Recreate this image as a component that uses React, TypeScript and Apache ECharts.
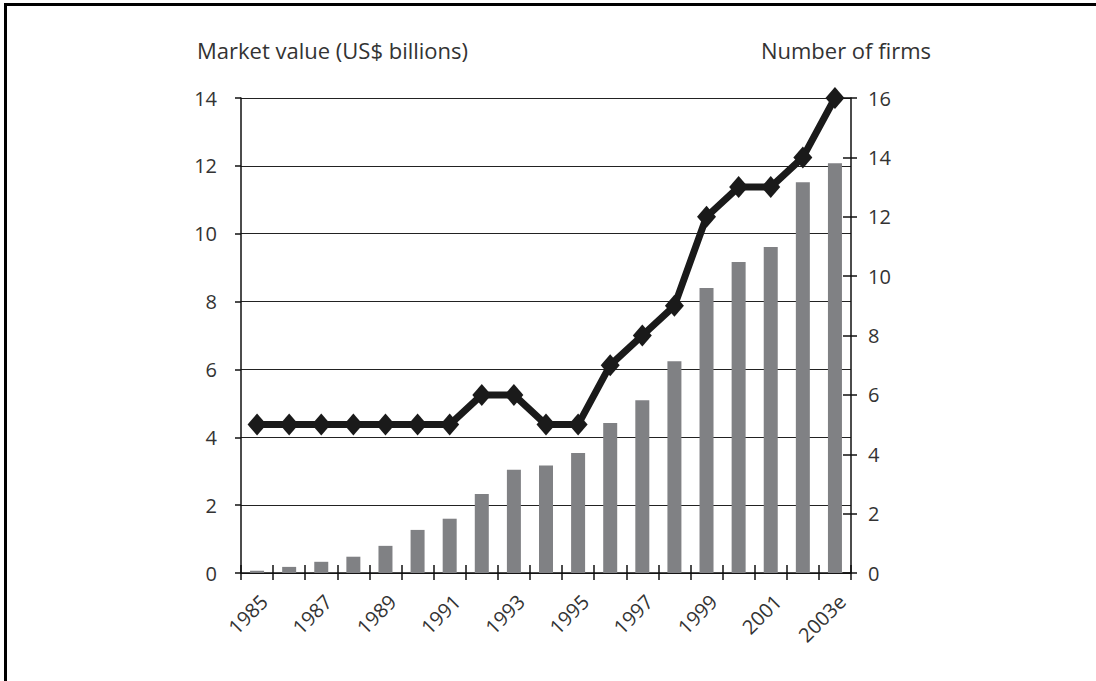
import React, { useEffect, useRef } from "react";
import * as echarts from "echarts";

const years = ["1985","1986","1987","1988","1989","1990","1991","1992","1993","1994","1995","1996","1997","1998","1999","2000","2001","2002","2003e"];
const marketValue = [0.07,0.18,0.33,0.48,0.8,1.27,1.6,2.33,3.04,3.17,3.54,4.42,5.09,6.24,8.4,9.17,9.61,11.52,12.08];
const firms = [5,5,5,5,5,5,5,6,6,5,5,7,8,9,12,13,13,14,16];
const leftTitle = "Market value (US$ billions)";
const rightTitle = "Number of firms";

const FONT = "'Open Sans', Lato, sans-serif";
const TXT = "#333333";

export default function App() {
  const ref = useRef<HTMLDivElement>(null);
  useEffect(() => {
    if (!ref.current) return;
    const chart = echarts.init(ref.current, null, { renderer: "svg" });
    chart.setOption({
      animation: false,
      backgroundColor: "#ffffff",
      textStyle: { fontFamily: FONT },
      grid: { left: 241, right: 245, top: 98, bottom: 108, containLabel: false },
      graphic: [
        { type: "rect", shape: { x: 4, y: 3, width: 1092, height: 3 }, style: { fill: "#000" } },
        { type: "rect", shape: { x: 4, y: 3, width: 3, height: 678 }, style: { fill: "#000" } },
        { type: "text", x: 197, y: 50, style: { text: leftTitle, font: `22px ${FONT}`, fill: TXT, textVerticalAlign: "middle", textAlign: "left" } },
        { type: "text", x: 931, y: 50, style: { text: rightTitle, font: `22px ${FONT}`, fill: TXT, textVerticalAlign: "middle", textAlign: "right" } },
      ],
      xAxis: [
        {
          type: "category",
          data: years,
          boundaryGap: true,
          axisLine: { show: true, lineStyle: { color: "#111", width: 1.5 } },
          axisTick: { show: true, interval: 0, length: 7, lineStyle: { color: "#111", width: 1.5 } },
          axisLabel: { interval: 1, rotate: 45, fontSize: 20, color: TXT, margin: 18, verticalAlign: "top", fontFamily: FONT },
          splitLine: { show: false },
        },
        {
          type: "category",
          data: years,
          boundaryGap: true,
          position: "bottom",
          axisLine: { show: false },
          axisTick: { show: true, inside: true, interval: 0, length: 8, lineStyle: { color: "#111", width: 1.5 } },
          axisLabel: { show: false },
          splitLine: { show: false },
        },
      ],
      yAxis: [
        {
          type: "value",
          min: 0,
          max: 14,
          interval: 2,
          position: "left",
          axisLine: { show: true, lineStyle: { color: "#111", width: 1.5 } },
          axisTick: { show: true, length: 6, lineStyle: { color: "#111", width: 1.5 } },
          axisLabel: { fontSize: 20, color: TXT, margin: 24, fontFamily: FONT },
          splitLine: { show: true, lineStyle: { color: "#222", width: 1.2 } },
        },
        {
          type: "value",
          min: 0,
          max: 16,
          interval: 2,
          position: "right",
          axisLine: { show: true, lineStyle: { color: "#111", width: 1.5 } },
          axisTick: { show: true, length: 6, lineStyle: { color: "#111", width: 1.5 } },
          axisLabel: { fontSize: 20, color: TXT, margin: 17, fontFamily: FONT },
          splitLine: { show: false },
        },
        {
          type: "value",
          min: 0,
          max: 16,
          interval: 2,
          position: "right",
          offset: 0,
          axisLine: { show: false },
          axisTick: { show: true, inside: true, length: 8, lineStyle: { color: "#111", width: 1.5 } },
          axisLabel: { show: false },
          splitLine: { show: false },
        },
      ],
      series: [
        {
          type: "bar",
          name: leftTitle,
          data: marketValue,
          xAxisIndex: 0,
          yAxisIndex: 0,
          barWidth: 14,
          itemStyle: { color: "#808184" },
          z: 2,
        },
        {
          type: "line",
          name: rightTitle,
          data: firms,
          xAxisIndex: 0,
          yAxisIndex: 1,
          symbol: "diamond",
          symbolSize: [19, 22],
          showSymbol: true,
          showAllSymbol: true,
          lineStyle: { color: "#1a1a1a", width: 7 },
          itemStyle: { color: "#1a1a1a" },
          z: 5,
        },
      ],
    });
    return () => chart.dispose();
  }, []);
  return (
    <div
      ref={ref}
      style={{ position: "fixed", left: 0, top: 0, width: 1096, height: 681 }}
    />
  );
}
